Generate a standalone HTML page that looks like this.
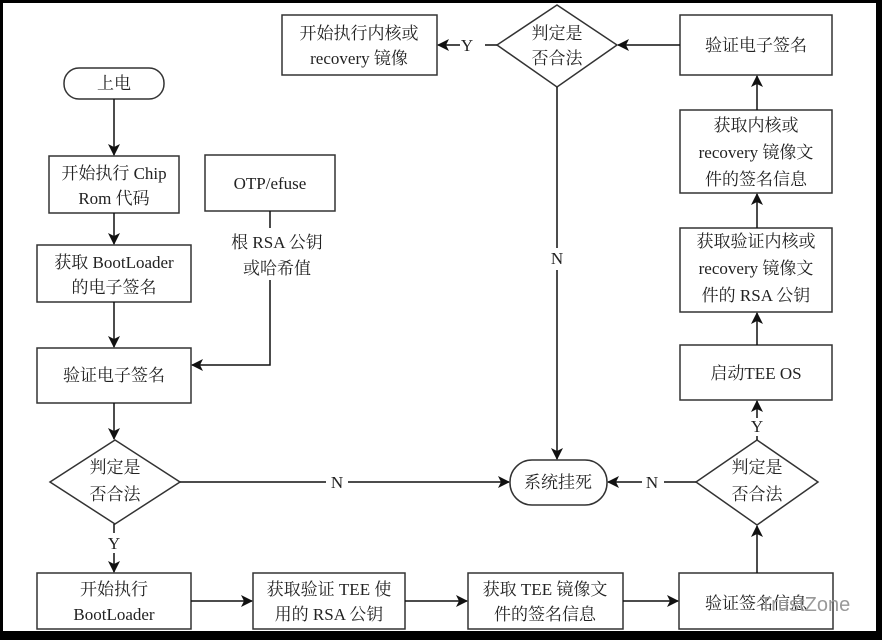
<!DOCTYPE html>
<html><head><meta charset="utf-8"><style>
html,body{margin:0;padding:0;background:#000;}
svg{display:block;}
text{font-family:"Liberation Serif","Noto Serif CJK SC",serif;font-size:17px;fill:#222;text-anchor:middle;}
</style></head><body>
<svg width="882" height="640" viewBox="0 0 882 640" xmlns="http://www.w3.org/2000/svg">
<defs><marker id="a" markerWidth="12" markerHeight="12" refX="11" refY="6" orient="auto" markerUnits="userSpaceOnUse"><path d="M0,0 L12,6 L0,12 L3,6 Z" fill="#111"/></marker></defs>
<rect x="3" y="3" width="873" height="628" fill="#fff"/>
<g fill="#fff" stroke="#333" stroke-width="1.5">
<rect x="282" y="15" width="155" height="60"/>
<polygon points="557,5 617,45 557,87 497,45"/>
<rect x="680" y="15" width="152" height="60"/>
<rect x="64" y="68" width="100" height="31" rx="15"/>
<rect x="49" y="156" width="130" height="57"/>
<rect x="205" y="155" width="130" height="56"/>
<rect x="37" y="245" width="154" height="57"/>
<rect x="37" y="348" width="154" height="55"/>
<polygon points="115,440 180,482 115,524 50,482"/>
<rect x="510" y="460" width="97" height="45" rx="22"/>
<polygon points="757,440 818,482 757,525 696,482"/>
<rect x="680" y="110" width="152" height="83"/>
<rect x="680" y="228" width="152" height="84"/>
<rect x="680" y="345" width="152" height="55"/>
<rect x="37" y="573" width="154" height="56"/>
<rect x="253" y="573" width="152" height="56"/>
<rect x="468" y="573" width="155" height="56"/>
<rect x="679" y="573" width="154" height="56"/>
</g>
<g stroke="#111" stroke-width="1.5" fill="none">
<line x1="680" y1="45" x2="618" y2="45" marker-end="url(#a)"/>
<line x1="497" y1="45" x2="485" y2="45"/><line x1="460" y1="45" x2="438" y2="45" marker-end="url(#a)"/>
<line x1="557" y1="87" x2="557" y2="248"/><line x1="557" y1="270" x2="557" y2="459" marker-end="url(#a)"/>
<line x1="114" y1="99" x2="114" y2="155" marker-end="url(#a)"/>
<line x1="114" y1="213" x2="114" y2="244" marker-end="url(#a)"/>
<line x1="114" y1="302" x2="114" y2="347" marker-end="url(#a)"/>
<line x1="270" y1="211" x2="270" y2="228"/>
<polyline points="270,280 270,365 192,365" marker-end="url(#a)"/>
<line x1="114" y1="403" x2="114" y2="439" marker-end="url(#a)"/>
<line x1="180" y1="482" x2="326" y2="482"/><line x1="348" y1="482" x2="509" y2="482" marker-end="url(#a)"/>
<line x1="114" y1="524" x2="114" y2="533"/><line x1="114" y1="553" x2="114" y2="572" marker-end="url(#a)"/>
<line x1="191" y1="601" x2="252" y2="601" marker-end="url(#a)"/>
<line x1="405" y1="601" x2="467" y2="601" marker-end="url(#a)"/>
<line x1="623" y1="601" x2="678" y2="601" marker-end="url(#a)"/>
<line x1="757" y1="573" x2="757" y2="526" marker-end="url(#a)"/>
<line x1="696" y1="482" x2="664" y2="482"/><line x1="642" y1="482" x2="608" y2="482" marker-end="url(#a)"/>
<line x1="757" y1="440" x2="757" y2="436"/><line x1="757" y1="418" x2="757" y2="401" marker-end="url(#a)"/>
<line x1="757" y1="345" x2="757" y2="313" marker-end="url(#a)"/>
<line x1="757" y1="228" x2="757" y2="194" marker-end="url(#a)"/>
<line x1="757" y1="110" x2="757" y2="76" marker-end="url(#a)"/>
</g>
<text x="359" y="39">开始执行内核或</text><text x="359" y="64">recovery 镜像</text>
<text x="467" y="51">Y</text>
<text x="557" y="39">判定是</text><text x="557" y="64">否合法</text>
<text x="756" y="51">验证电子签名</text>
<text x="114" y="89">上电</text>
<text x="114" y="179">开始执行 Chip</text><text x="114" y="204">Rom 代码</text>
<text x="270" y="189">OTP/efuse</text>
<text x="277" y="248">根 RSA 公钥</text><text x="277" y="274">或哈希值</text>
<text x="114" y="268">获取 BootLoader</text><text x="114" y="293">的电子签名</text>
<text x="114" y="381">验证电子签名</text>
<text x="115" y="473">判定是</text><text x="115" y="500">否合法</text>
<text x="337" y="488">N</text>
<text x="557" y="264">N</text>
<text x="558" y="488">系统挂死</text>
<text x="652" y="488">N</text>
<text x="757" y="473">判定是</text><text x="757" y="500">否合法</text>
<text x="757" y="432">Y</text>
<text x="756" y="379">启动TEE OS</text>
<text x="756" y="247">获取验证内核或</text><text x="756" y="274">recovery 镜像文</text><text x="756" y="301">件的 RSA 公钥</text>
<text x="756" y="131">获取内核或</text><text x="756" y="158">recovery 镜像文</text><text x="756" y="185">件的签名信息</text>
<text x="114" y="549">Y</text>
<text x="114" y="595">开始执行</text><text x="114" y="620">BootLoader</text>
<text x="329" y="595">获取验证 TEE 使</text><text x="329" y="620">用的 RSA 公钥</text>
<text x="545" y="595">获取 TEE 镜像文</text><text x="545" y="620">件的签名信息</text>
<text x="756" y="609">验证签名信息</text>
<text x="805" y="611" style="font-family:'Liberation Sans',sans-serif;font-size:20px;fill:#999">TrustZone</text>
</svg>
</body></html>
